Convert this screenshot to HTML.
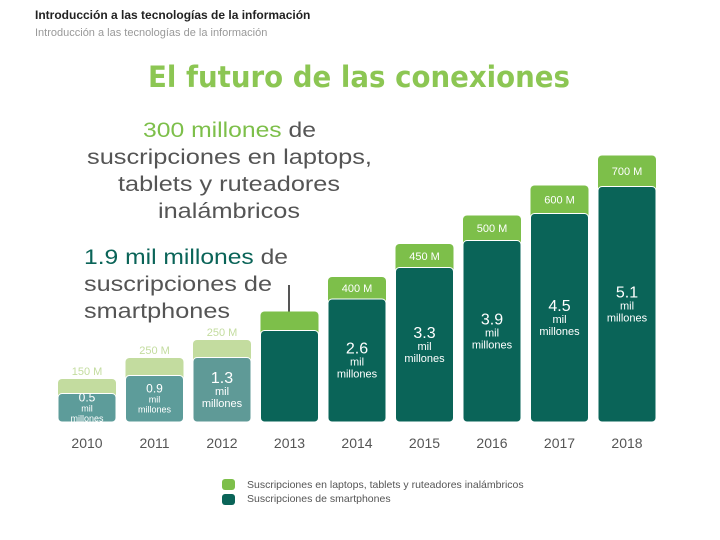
<!DOCTYPE html>
<html><head><meta charset="utf-8">
<style>
body{margin:0;background:#fff;width:720px;height:540px;overflow:hidden;font-family:"Liberation Sans",sans-serif;}
svg{display:block}
</style></head>
<body>
<svg id="c" width="720" height="540">
<text x="35" y="19" font-size="12" font-weight="bold" fill="#222">Introducción a las tecnologías de la información</text>
<text x="35" y="36" font-size="11" fill="#999">Introducción a las tecnologías de la información</text>
<text x="148" y="87" font-size="29" font-weight="bold" font-family="DejaVu Sans, sans-serif" fill="#8cc653" textLength="422" lengthAdjust="spacingAndGlyphs">El futuro de las conexiones</text>
<g font-size="21" fill="#555">
<text x="143" y="137" textLength="173" lengthAdjust="spacingAndGlyphs"><tspan fill="#7dbf4a">300 millones</tspan> de</text>
<text x="87" y="164" textLength="285" lengthAdjust="spacingAndGlyphs">suscripciones en laptops,</text>
<text x="118" y="191" textLength="222" lengthAdjust="spacingAndGlyphs">tablets y ruteadores</text>
<text x="158" y="218" textLength="142" lengthAdjust="spacingAndGlyphs">inalámbricos</text>
</g>
<g font-size="21" fill="#555">
<text x="84" y="264" textLength="204" lengthAdjust="spacingAndGlyphs"><tspan fill="#0a6458">1.9 mil millones</tspan> de</text>
<text x="84" y="291" textLength="188" lengthAdjust="spacingAndGlyphs">suscripciones de</text>
<text x="84" y="318" textLength="146" lengthAdjust="spacingAndGlyphs">smartphones</text>
</g>
<line x1="289" y1="285" x2="289" y2="318" stroke="#555" stroke-width="2"/>
<g id="bars"></g>
<rect x="222" y="479" width="13" height="11" rx="3" fill="#7dbf4a"/>
<text x="247" y="488" font-size="10.5" fill="#555">Suscripciones en laptops, tablets y ruteadores inalámbricos</text>
<rect x="222" y="494" width="13" height="11" rx="3" fill="#0a6458"/>
<text x="247" y="502" font-size="10.5" fill="#555">Suscripciones de smartphones</text>
</svg>
<script>
const years=["2010","2011","2012","2013","2014","2015","2016","2017","2018"];
const phones=[0.5,0.9,1.3,1.9,2.6,3.3,3.9,4.5,5.1];
const laptops=[150,250,250,300,400,450,500,600,700];
const showLabels=[true,true,true,false,true,true,true,true,true];
const NS="http://www.w3.org/2000/svg";
const g=document.getElementById("bars");
const base=422, x0=58, pitch=67.5, bw=58;
function yPhone(v){return 6+45*v;}
function yLap(v){return 10+0.03*v;}
function mk(tag,attrs,parent){const e=document.createElementNS(NS,tag);for(const k in attrs)e.setAttribute(k,attrs[k]);parent.appendChild(e);return e;}
years.forEach((yr,i)=>{
  const x=x0+i*pitch;
  const early=i<3;
  const hd=yPhone(phones[i]), hg=yLap(laptops[i]);
  const dTop=base-hd, gTop=dTop-hg;
  const gr=mk("rect",{x:x,y:gTop,width:bw,height:hg+6,rx:4,fill:early?"#c3dc9f":"#7dbf4a"},g);
  
  
  const dr=mk("rect",{x:x,y:dTop,width:bw,height:hd,rx:4,fill:early?(i==2?"#5f9a97":"#5d9c9a"):"#0a6458",stroke:"#fff","stroke-width":1},g);
  
  
  const cx=x+bw/2;
  const yl=mk("text",{x:cx,y:448,"font-size":14,fill:"#555","text-anchor":"middle"},g);
  yl.textContent=yr;
  
  
  if(!showLabels[i])return;
  const lt=mk("text",{x:cx,y:early?gTop-4:gTop+hg/2+4,"font-size":11,fill:early?"#c3dc9f":"#fff","text-anchor":"middle"},g);
  lt.textContent=laptops[i]+" M";
  
  
  const small=i<2;
  const mid=dTop+hd/2;
  const s=small?0.75:1;
  const t1=mk("text",{x:cx,y:mid-7*s+(small?-1:0),"font-size":small?12:16,fill:"#fff","text-anchor":"middle"},g);
  t1.textContent=phones[i];
  
  
  const t2=mk("text",{x:cx,y:mid+5*s,"font-size":small?9:11,fill:"#fff","text-anchor":"middle"},g);
  t2.textContent="mil";
  
  
  const t3=mk("text",{x:cx,y:mid+17*s+(small?1:0),"font-size":small?9:11,fill:"#fff","text-anchor":"middle"},g);
  t3.textContent="millones";
  
  
});
</script>
</body></html>
